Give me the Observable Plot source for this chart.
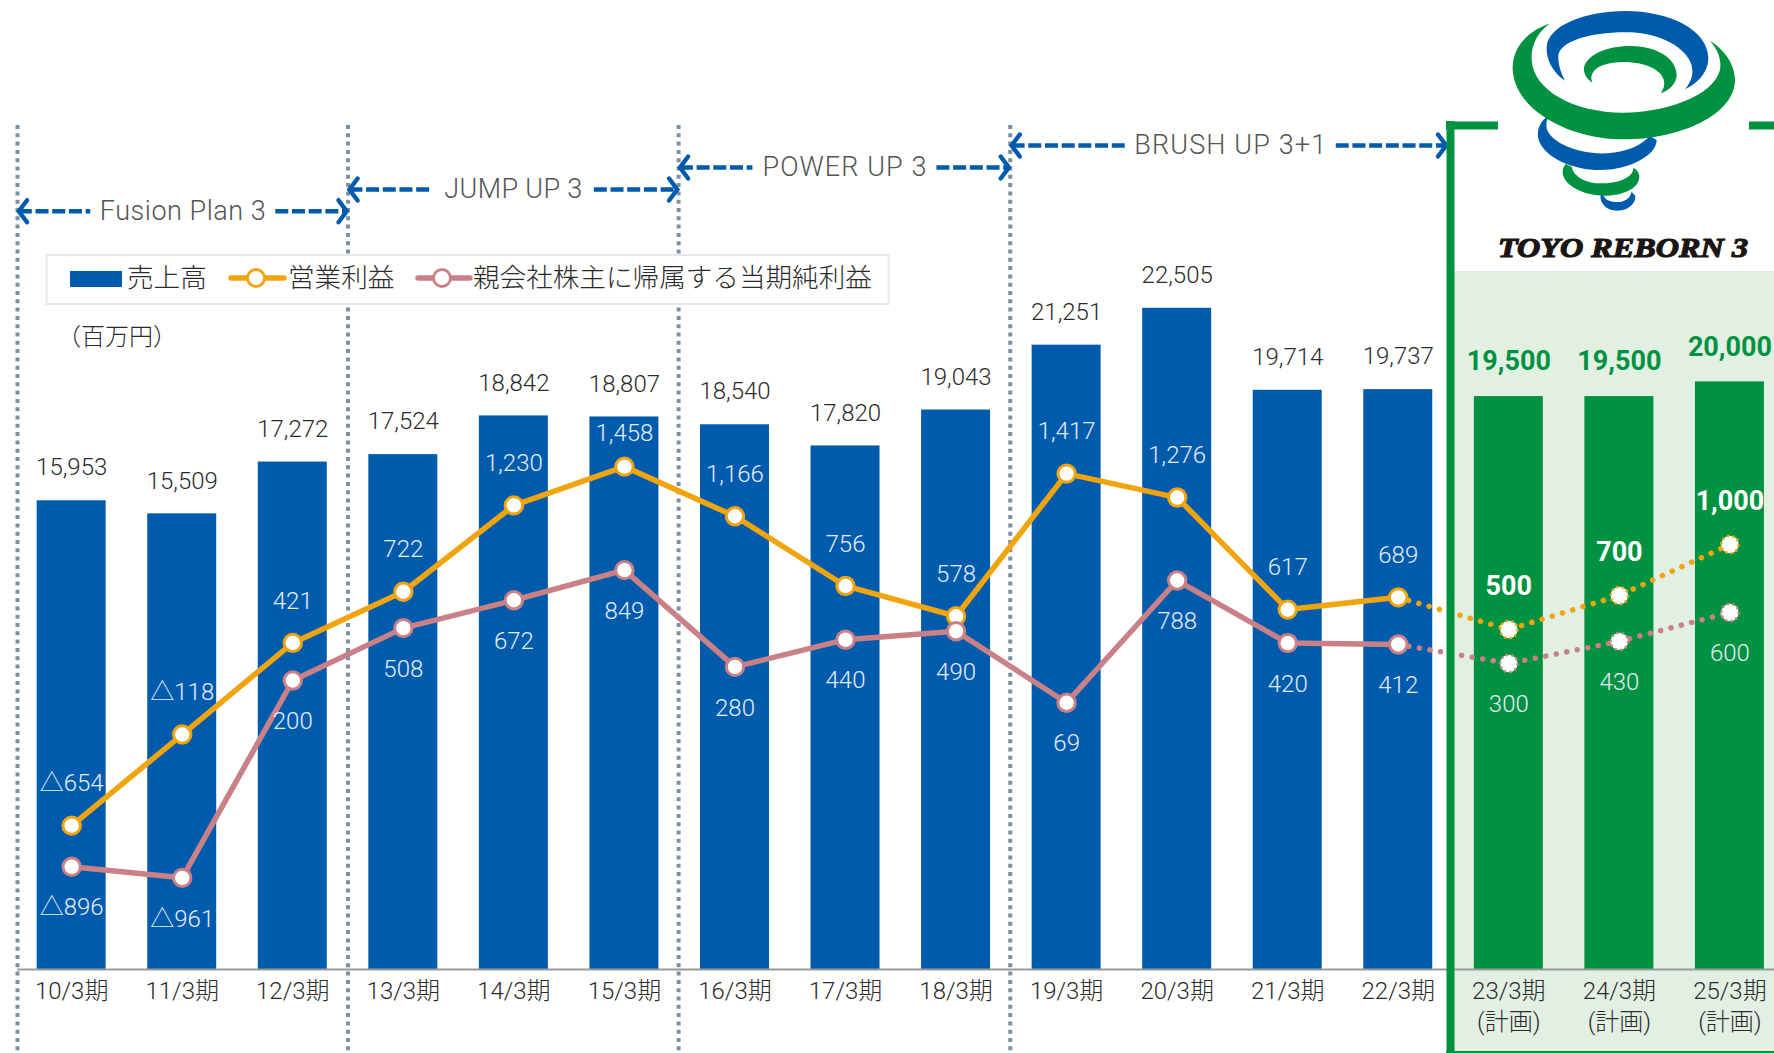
<!DOCTYPE html>
<html lang="ja">
<head>
<meta charset="utf-8">
<title>売上高・営業利益・親会社株主に帰属する当期純利益</title>
<style>
html,body{margin:0;padding:0;background:#fff;overflow:hidden}
svg{display:block}
</style>
<script src="https://cdn.jsdelivr.net/npm/d3@7"></script>
<script src="https://cdn.jsdelivr.net/npm/@observablehq/plot@0.6"></script>
</head>
<body>
<div id="chart"></div>
<script>
const categories = ["10/3期","11/3期","12/3期","13/3期","14/3期","15/3期","16/3期","17/3期","18/3期","19/3期","20/3期","21/3期","22/3期","23/3期","24/3期","25/3期"];
const planSuffix = "(計画)";
const sales = [15953,15509,17272,17524,18842,18807,18540,17820,19043,21251,22505,19714,19737,19500,19500,20000];
const operatingProfit = [-654,-118,421,722,1230,1458,1166,756,578,1417,1276,617,689,500,700,1000];
const netProfit = [-896,-961,200,508,672,849,280,440,490,69,788,420,412,300,430,600];
const firstPlanIndex = 13;
const periodNames = ["Fusion Plan 3","JUMP UP 3","POWER UP 3","BRUSH UP 3+1"];
const periodBounds = [-0.49,2.5,5.49,8.49,12.47];
const legendLabels = ["売上高","営業利益","親会社株主に帰属する当期純利益"];
const unitLabel = "（百万円）";

// styles
const BLUE="#005bac", GREEN="#009241", PALE="#e2f0e4", ORANGE="#f0a50f", PINK="#c98086", RULE="#7c90a4", INK="#2b2b2b", GREY="#555", ONBAR="#e4edf8";
const FONT='Roboto,"Noto Sans CJK JP",sans-serif';

// pixel <-> scale helpers (frame decorations only)
const X0=15.9, STEP=110.55, YBASE=969, PXPER=0.02938;
const xpx=p=>(p-X0)/STEP-0.5;
const ypx=p=>(YBASE-p)/PXPER;
// the profit series use the chart's secondary axis, aligned to the primary y scale
const profitY=v=>8680+5.786*v;

const rows=categories.map((c,i)=>({i,c,sales:sales[i],op:operatingProfit[i],net:netProfit[i],plan:i>=firstPlanIndex}));
const fmt=v=>(v<0?"△":"")+d3.format(",")(Math.abs(v));

const levels=[210.7,189,167,145], halfGaps=[92.5,80.5,92,105.5], periodTextWidths=[166,138,164,192];
const periods=periodNames.map((name,k)=>{
  const a=periodBounds[k], b=k===3?xpx(1447):periodBounds[k+1], m=(periodBounds[k]+periodBounds[k+1])/2, g=halfGaps[k]/STEP;
  return {name,a:a+0.012,b:b-0.012,m,g,y:ypx(levels[k])};
});
const chevron=dir=>({draw(c,s){const r=Math.sqrt(s/Math.PI);c.moveTo(dir*r*0.75,-r);c.lineTo(0,0);c.lineTo(dir*r*0.75,r);}});

const seriesMarks=(field,color)=>{
  const Y=d=>profitY(d[field]);
  return [
    Plot.line(rows.filter(d=>d.i<firstPlanIndex),{x:"i",y:Y,stroke:color,strokeWidth:5.5}),
    Plot.line(rows.filter(d=>d.i>=firstPlanIndex-1),{x:"i",y:Y,stroke:color,strokeWidth:5.5,strokeDasharray:"0.1 10.6",strokeLinecap:"round"})
  ];
};
const dotMarks=(field,color)=>{
  const Y=d=>profitY(d[field]);
  return [
    Plot.dot(rows.filter(d=>!d.plan),{x:"i",y:Y,r:8.7,fill:"#fff",stroke:color,strokeWidth:3}),
    Plot.dot(rows.filter(d=>d.plan),{x:"i",y:Y,r:8.7,fill:"#fff",stroke:color,strokeWidth:2.6,strokeDasharray:"2.2 3.2"})
  ];
};
const lab={fontFamily:FONT,fontSize:24,fontWeight:300,textAnchor:"middle"};

function legendMark(){
  const g=d3.create("svg:g").attr("text-anchor","start");
  g.append("rect").attr("x",46.5).attr("y",255).attr("width",842).attr("height",49).attr("fill","#fff").attr("stroke","#e3e8ee").attr("stroke-width",2);
  g.append("rect").attr("x",70).attr("y",271).attr("width",52).attr("height",16).attr("fill",BLUE);
  [[231,284,256,ORANGE],[418,470,442,PINK]].forEach(([a,b,c,col])=>{
    g.append("line").attr("x1",a).attr("x2",b).attr("y1",278).attr("y2",278).attr("stroke",col).attr("stroke-width",5.5).attr("stroke-linecap","round");
    g.append("circle").attr("cx",c).attr("cy",278).attr("r",8.5).attr("fill","#fff").attr("stroke",col).attr("stroke-width",2.8);
  });
  [[127,legendLabels[0]],[288,legendLabels[1]],[473,legendLabels[2]]].forEach(([x,t])=>{
    g.append("text").attr("x",x).attr("y",278).attr("dy","0.35em").attr("fill",INK).attr("font-family",FONT).attr("font-weight",300).attr("font-size",26.6).text(t);
  });
  g.append("text").attr("x",117).attr("y",337).attr("dy","0.35em").attr("text-anchor","middle").attr("fill",INK).attr("font-family",FONT).attr("font-weight",300).attr("font-size",24).text(unitLabel);
  return g.node();
}
function logoMark(){
  const g=d3.create("svg:g").attr("transform","translate(1430,0) scale(0.3333)");
  const shapes=[
    [BLUE,"M350,350 C325,370 318,400 328,425 C350,475 430,510 510,510 C590,510 680,470 680,420 L660,408 C620,450 560,462 500,460 C430,455 360,425 350,385 C348,370 350,360 355,352 Z"],
    [BLUE,"M512,585 C508,610 530,632 562,632 C595,632 618,610 616,588 L605,575 C600,595 585,606 560,606 C540,606 525,600 520,585 Z"],
    [GREEN,"M407,492 C392,510 395,535 420,555 C450,578 490,587 520,587 C580,587 628,565 628,530 C628,518 620,508 610,503 C612,525 580,548 520,550 C470,552 430,530 425,500 Z"],
    [GREEN,"M360,70 C280,100 248,150 248,205 C250,330 420,418 580,418 C760,418 915,340 915,240 C915,195 885,150 840,122 C865,150 875,180 870,210 C850,290 700,338 580,338 C430,338 310,270 305,180 C302,135 325,95 360,70 Z"],
    [BLUE,"M405,242 C365,215 348,175 350,140 C355,75 470,33 585,33 C720,33 835,90 835,175 C835,215 805,250 765,268 C790,240 795,205 775,175 C745,125 660,95 585,97 C480,97 385,125 385,170 C385,200 395,222 405,242 Z"],
    [GREEN,"M487,248 C468,235 460,218 462,203 C470,165 530,138 600,138 C680,138 740,175 740,225 C740,250 720,270 692,280 C712,255 705,225 670,205 C630,183 560,180 520,195 C490,207 478,225 487,248 Z"]
  ];
  shapes.forEach(([f,d])=>g.append("path").attr("fill",f).attr("d",d));
  const t=d3.create("svg:g").attr("text-anchor","start");
  t.append("text").attr("x",1498).attr("y",256.5).attr("textLength",250).attr("lengthAdjust","spacingAndGlyphs")
    .attr("font-family",'"Liberation Serif",serif').attr("font-style","italic").attr("font-weight",700).attr("font-size",28)
    .attr("fill","#1a1512").attr("stroke","#1a1512").attr("stroke-width",1.2).text("TOYO REBORN 3");
  const outer=d3.create("svg:g");
  outer.node().append(g.node(),t.node());
  return outer.node();
}

const chart=Plot.plot({
  width:1774,height:1053,marginTop:0,marginRight:0,marginBottom:84,marginLeft:0,
  style:{fontFamily:FONT,background:"#fff",overflow:"hidden"},
  x:{type:"linear",domain:[-0.5,15.5],range:[X0,X0+16*STEP]},
  y:{domain:[0,YBASE/PXPER],range:[YBASE,0],axis:null},
  marks:[
    // plan panel
    Plot.rect([0],{x1:()=>xpx(1454),x2:()=>15.5,y1:()=>ypx(1053),y2:()=>ypx(271),fill:PALE}),
    // period separators
    Plot.ruleX(periodBounds.slice(0,4),{y1:()=>ypx(125),y2:()=>ypx(1053),stroke:RULE,strokeWidth:4,strokeDasharray:"4 4.3"}),
    // period arrows
    Plot.link(periods,{x1:"a",x2:d=>d.m-d.g,y1:"y",y2:"y",stroke:BLUE,strokeWidth:4.4,strokeDasharray:"13 3.7"}),
    Plot.link(periods,{x1:d=>d.m+d.g,x2:"b",y1:"y",y2:"y",stroke:BLUE,strokeWidth:4.4,strokeDasharray:"13 3.7"}),
    Plot.dot(periods,{x:"a",y:"y",r:11,symbol:chevron(1),fill:"none",stroke:BLUE,strokeWidth:4.4,strokeLinecap:"round"}),
    Plot.dot(periods,{x:"b",y:"y",r:11,symbol:chevron(-1),fill:"none",stroke:BLUE,strokeWidth:4.4,strokeLinecap:"round"}),
    Plot.text(periods,{x:"m",y:"y",text:"name",fill:GREY,fontFamily:FONT,fontWeight:300,fontSize:27,textAnchor:"middle",
      render(index,scales,values,dims,ctx,next){
        const g=next(index,scales,values,dims,ctx);
        g.querySelectorAll("text").forEach((t,k)=>t.setAttribute("textLength",periodTextWidths[index[k]]));
        return g;
      }}),
    // bars
    Plot.rectY(rows.filter(d=>!d.plan),{x1:d=>d.i-0.312,x2:d=>d.i+0.312,y:"sales",fill:BLUE}),
    Plot.rectY(rows.filter(d=>d.plan),{x1:d=>d.i-0.312,x2:d=>d.i+0.312,y:"sales",fill:GREEN}),
    Plot.ruleY([0],{x1:()=>periodBounds[0],x2:()=>15.5,stroke:"#999",strokeWidth:2}),
    Plot.axisX({ticks:d3.range(categories.length),tickSize:0,tickPadding:7,label:null,fontSize:24,fontWeight:300,fill:INK,lineHeight:1.3,
      tickFormat:i=>i>=firstPlanIndex?categories[i]+"\n"+planSuffix:categories[i]}),
    // profit lines
    ...seriesMarks("op",ORANGE),
    ...seriesMarks("net",PINK),
    ...dotMarks("op",ORANGE),
    ...dotMarks("net",PINK),
    // green frame
    Plot.ruleX([0],{x:()=>xpx(1450),y1:()=>ypx(121),y2:()=>ypx(1053),stroke:GREEN,strokeWidth:8}),
    Plot.ruleY([0],{y:()=>ypx(125),x1:()=>xpx(1446),x2:()=>xpx(1498),stroke:GREEN,strokeWidth:8}),
    Plot.ruleY([0],{y:()=>ypx(125),x1:()=>xpx(1749),x2:()=>15.5,stroke:GREEN,strokeWidth:8}),
    Plot.ruleY([0],{y:()=>ypx(1052),x1:()=>xpx(1446),x2:()=>15.5,stroke:GREEN,strokeWidth:3}),
    // value labels
    Plot.text(rows.filter(d=>!d.plan),{x:"i",y:"sales",text:d=>fmt(d.sales),dy:-33,fill:INK,...lab}),
    Plot.text(rows.filter(d=>d.plan),{x:"i",y:"sales",text:d=>fmt(d.sales),dy:-35,fill:GREEN,...lab,fontSize:27,fontWeight:700}),
    Plot.text(rows.filter(d=>!d.plan&&d.i!==5),{x:"i",y:d=>profitY(d.op),text:d=>fmt(d.op),dy:-42,fill:ONBAR,...lab}),
    Plot.text(rows.filter(d=>d.i===5),{x:"i",y:d=>profitY(d.op),text:d=>fmt(d.op),dy:-33,fill:ONBAR,...lab}),
    Plot.text(rows.filter(d=>d.plan),{x:"i",y:d=>profitY(d.op),text:d=>fmt(d.op),dy:-43,fill:"#fff",...lab,fontSize:27,fontWeight:700}),
    Plot.text(rows,{x:"i",y:d=>profitY(d.net),text:d=>fmt(d.net),dy:41,fill:ONBAR,...lab}),
    // legend and logo
    legendMark,
    logoMark
  ]
});
document.getElementById("chart").append(chart);
</script>
</body>
</html>
